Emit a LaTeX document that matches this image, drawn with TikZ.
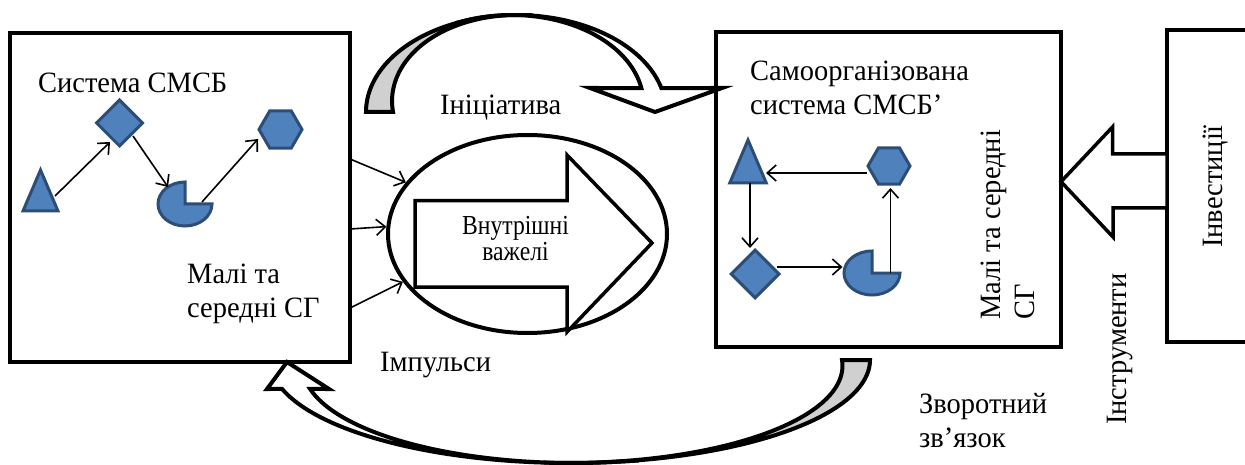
\documentclass[tikz,border=0pt]{standalone}
\usepackage{fontspec}
\setmainfont{Liberation Serif}[FakeStretch=0.965]
\newfontfamily\narrowfont{Liberation Serif}[FakeStretch=0.86]
\usetikzlibrary{arrows.meta,shapes.geometric,calc}
\definecolor{shfill}{HTML}{4F81BD}
\definecolor{shline}{HTML}{2C4D75}
\definecolor{tailgray}{HTML}{D0D0D0}
\tikzset{
  box/.style={draw, line width=4pt, inner sep=0pt, outer sep=0pt},
  ghost/.style={inner sep=0pt, outer sep=0pt},
  shp/.style={fill=shfill, draw=shline, line width=3pt, line join=miter},
  con/.style={line width=1.6pt, -{Straight Barb[length=9pt,width=16pt,line width=1.6pt]}},
  blk/.style={draw, line width=3.5pt, fill=white, line join=miter},
  crv/.style={draw, line width=4pt, line join=miter},
  lbl/.style={font=\fontsize{29.5}{34}\selectfont, inner sep=0pt, align=left},
  inlbl/.style={font=\narrowfont\fontsize{27.5}{23.5}\selectfont, inner sep=0pt, align=center},
}
\begin{document}
\begin{tikzpicture}[x=1pt,y=1pt]
\useasboundingbox (0,0) rectangle (1245,-465);
\clip (0,0) rectangle (1245,-465);

% ---------- boxes ----------
\node[box, minimum width=340pt, minimum height=329pt] (L) at (180,-197.5) {};
\node[box, minimum width=345pt, minimum height=315pt] (R) at (888.5,-189.5) {};
\node[box, minimum width=133pt, minimum height=312pt] (I) at (1233.5,-186) {};

% ---------- left system ----------
\node[ghost, minimum width=35pt, minimum height=41pt] (t1) at (40.5,-190.5) {};
\draw[shp] (t1.south west) -- (t1.north) -- (t1.south east) -- cycle;
\node[diamond, shp, minimum width=47pt, minimum height=47pt, inner sep=0pt] (d1) at (119.5,-123) {};
\node[ghost, minimum width=54pt, minimum height=44pt] (p1) at (185,-204) {};
\draw[shp] (p1.center) -- (p1.north) arc[start angle=90, end angle=360, x radius=27, y radius=22] -- cycle;
\node[regular polygon, regular polygon sides=6, shp, minimum size=43pt, inner sep=0pt] (h1) at (280.5,-129.5) {};

\draw[con] ([shift={(14.5,-5.5)}]t1.center) -- ([shift={(-9.5,-19)}]d1.center);
\draw[con] ([shift={(13.5,-13)}]d1.center) -- ([shift={(-17,17)}]p1.center);
\draw[con] ([shift={(17,2)}]p1.center) -- ([shift={(-22.5,-9.5)}]h1.center);

\node[lbl, anchor=base west] (tSys) at (38,-93) {Система СМСБ};
\node[lbl, anchor=base west] (tMali) at (187,-317) {Малі та\\середні СГ};

% ---------- right system ----------
\node[ghost, minimum width=36.5pt, minimum height=43pt] (t2) at (748,-161.5) {};
\draw[shp] (t2.south west) -- (t2.north) -- (t2.south east) -- cycle;
\node[regular polygon, regular polygon sides=6, shp, minimum size=42pt, inner sep=0pt] (h2) at (889,-166) {};
\node[diamond, shp, minimum width=49pt, minimum height=49pt, inner sep=0pt] (d2) at (755,-274) {};
\node[ghost, minimum width=56pt, minimum height=44pt] (p2) at (872,-273) {};
\draw[shp] (p2.center) -- (p2.north) arc[start angle=90, end angle=360, x radius=28, y radius=22] -- cycle;

\draw[con] ([shift={(-22,-7)}]h2.center) -- ([shift={(18,-11.5)}]t2.center);
\draw[con] ([shift={(2,-21.5)}]t2.center) -- ([shift={(-5,26)}]d2.center);
\draw[con] ([shift={(21.5,7)}]d2.center) -- ([shift={(-29.5,6)}]p2.center);
\draw[con] ([shift={(18.5,0)}]p2.center) -- ([shift={(1.5,-22)}]h2.center);

\node[lbl, anchor=base west] (tSelf) at (750,-115) {Самоорганізована\\система СМСБ’};
\node[lbl, anchor=base west, rotate=90] (tMaliR) at (1034,-320) {Малі та середні\\СГ};

% ---------- ellipse with inner levers ----------
\node[draw, ellipse, line width=4pt, minimum width=279pt, minimum height=198pt, inner sep=0pt] (el) at (527.5,-234) {};
\draw[blk] (415,-200.7) -- (567,-200.7) -- (567,-155) -- (652,-243) -- (567,-332) -- (567,-287) -- (415,-287) -- cycle;
\node[inlbl, anchor=base] (tLev) at (515.5,-260) {Внутрішні\\важелі};

\draw[con] ([yshift=38.5pt]L.east) -- (el.157);
\draw[con] ([yshift=-31.5pt]L.east) -- (el.177);
\draw[con] ([yshift=-110.5pt]L.east) -- (el.201);

\node[lbl, anchor=base west] (tImp) at (380,-371) {Імпульси};

% ---------- top curved arrow (initiative) ----------
\filldraw[crv, fill=tailgray]
  plot[domain=180:88, samples=60] ({516+150*cos(\x)},{-112+97*sin(\x)})
  -- plot[domain=88:180, samples=60] ({516+150*cos(\x)+27*(\x-88)/92},{-112+97*sin(\x)})
  -- cycle;
\filldraw[crv, fill=white]
  plot[domain=112:14.32, samples=70] ({516+150*cos(\x)},{-112+97*sin(\x)})
  -- (722,-88) -- (655,-112) -- (590,-88)
  -- plot[domain=14.32:112, samples=70] ({516+150*cos(\x)-20*(112-\x)/97.68},{-112+97*sin(\x)})
  -- cycle;
\node[lbl, anchor=base west] (tIni) at (440,-115) {Ініціатива};

% ---------- bottom curved arrow (feedback) ----------
\filldraw[crv, fill=tailgray]
  plot[domain=360:265, samples=70] ({570+300*cos(\x)},{-360+103*sin(\x)})
  -- plot[domain=265:360, samples=70] ({570+300*cos(\x)-28*(\x-265)/95},{-360+103*sin(\x)})
  -- cycle;
\filldraw[crv, fill=white]
  plot[domain=280:196.35, samples=70] ({570+300*cos(\x)},{-360+103*sin(\x)})
  -- (267,-389) -- (287,-362) -- (329,-389)
  -- plot[domain=196.35:280, samples=70] ({570+300*cos(\x)+28*(280-\x)/83.65},{-360+103*sin(\x)})
  -- cycle;
\node[lbl, anchor=base west] (tFb) at (919,-447) {Зворотний\\зв’язок};

% ---------- investments -> instruments block arrow ----------
\draw[blk] ([yshift=7.8pt]R.east) -- ++(51.5,54.7) -- ++(0,-27) -- (I.west |- 0,-154)
  -- (I.west |- 0,-208) -- ++(-54,0) -- ++(0,-29) -- cycle;
\node[lbl, anchor=base west, rotate=90] (tInstr) at (1126,-425) {Інструменти};
\node[lbl, anchor=base west, rotate=90] (tInv) at (1222,-248) {Інвестиції};
\end{tikzpicture}
\end{document}
